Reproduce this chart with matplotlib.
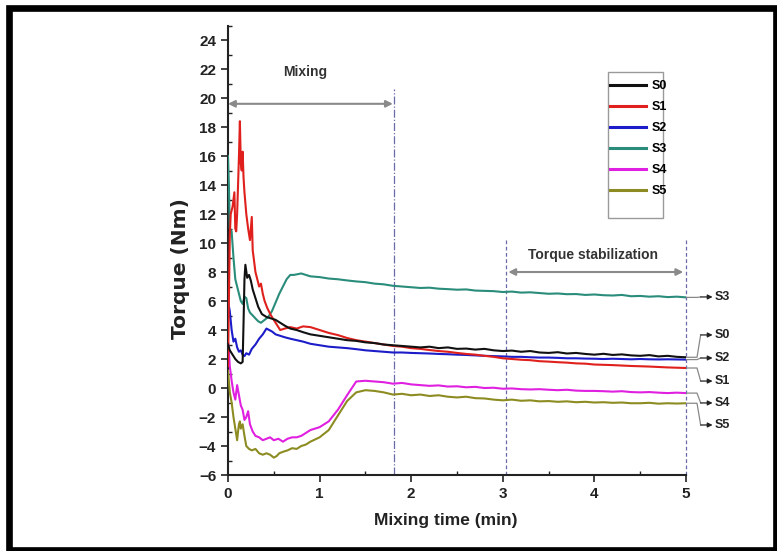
import matplotlib
matplotlib.use("Agg")
import matplotlib.pyplot as plt
from matplotlib.patches import Rectangle
from matplotlib.ticker import MultipleLocator

plt.rcParams['font.family'] = ['Liberation Sans Narrow', 'Liberation Sans', 'DejaVu Sans']
plt.rcParams['font.weight'] = 'bold'

# Shared time grid for the slow part of every run (min)
T_LATE = [1.0, 1.1, 1.2, 1.3, 1.4, 1.5, 1.6, 1.7, 1.8, 1.9,
          2.0, 2.1, 2.2, 2.3, 2.4, 2.5, 2.6, 2.7, 2.8, 2.9,
          3.0, 3.1, 3.2, 3.3, 3.4, 3.5, 3.6, 3.7, 3.8, 3.9,
          4.0, 4.1, 4.2, 4.3, 4.4, 4.5, 4.6, 4.7, 4.8, 4.9, 5.0]

# S0 (black)
s0_t = [0.0, 0.02, 0.05, 0.08, 0.11, 0.14, 0.16, 0.17, 0.18, 0.19, 0.21, 0.23, 0.25,
        0.27, 0.30, 0.33, 0.37, 0.42, 0.47, 0.52, 0.57, 0.62, 0.68, 0.75, 0.82, 0.9]
s0_y = [3.0, 2.6, 2.3, 2.0, 1.8, 1.7, 1.8, 4.5, 7.5, 8.5, 7.6, 7.8, 7.4,
        6.8, 6.2, 5.6, 5.1, 4.9, 4.8, 4.7, 4.5, 4.3, 4.1, 4.0, 3.85, 3.7]
s0_late = [3.6, 3.5, 3.4, 3.3, 3.25, 3.15, 3.1, 3.0, 2.95, 2.9,
           2.85, 2.8, 2.85, 2.75, 2.8, 2.7, 2.72, 2.65, 2.7, 2.6,
           2.55, 2.58, 2.5, 2.55, 2.45, 2.42, 2.47, 2.38, 2.42, 2.35,
           2.3, 2.36, 2.28, 2.32, 2.25, 2.22, 2.27, 2.18, 2.22, 2.15, 2.12]

# S1 (red)
s1_t = [0.0, 0.01, 0.02, 0.03, 0.05, 0.07, 0.08, 0.09, 0.10, 0.11, 0.12, 0.13, 0.14,
        0.15, 0.16, 0.17, 0.18, 0.20, 0.22, 0.24, 0.26, 0.27, 0.28, 0.30, 0.32, 0.34,
        0.36, 0.38, 0.40, 0.43, 0.47, 0.52, 0.57, 0.62, 0.68, 0.75, 0.82, 0.9]
s1_y = [1.5, 6.0, 10.5, 12.0, 12.5, 13.5, 11.0, 10.8, 12.0, 14.0, 16.0, 18.4, 15.5,
        15.0, 16.3, 14.5, 13.5, 12.0, 11.0, 10.2, 11.8, 9.5, 9.0, 8.0, 7.5, 7.0,
        7.2, 6.5, 6.0, 5.5, 5.0, 4.5, 4.0, 4.1, 4.2, 4.1, 4.25, 4.2]
s1_late = [4.0, 3.8, 3.65, 3.45, 3.3, 3.2, 3.1, 3.0, 2.9, 2.85,
           2.75, 2.7, 2.62, 2.55, 2.5, 2.42, 2.35, 2.3, 2.22, 2.15,
           2.05, 2.0, 1.95, 1.92, 1.85, 1.82, 1.78, 1.75, 1.7, 1.68,
           1.62, 1.6, 1.58, 1.55, 1.52, 1.5, 1.48, 1.45, 1.42, 1.4, 1.38]

# S2 (blue)
s2_t = [0.0, 0.02, 0.04, 0.06, 0.08, 0.10, 0.12, 0.14, 0.16, 0.18, 0.20, 0.23, 0.26,
        0.30, 0.34, 0.38, 0.42, 0.45, 0.48, 0.52, 0.57, 0.62, 0.68, 0.75, 0.82, 0.9]
s2_y = [6.0, 5.3, 4.0, 3.2, 3.4, 2.8, 2.5, 2.6, 2.3, 2.2, 2.4, 2.3, 2.7,
        3.0, 3.4, 3.7, 4.1, 4.0, 3.9, 3.7, 3.6, 3.5, 3.4, 3.3, 3.2, 3.05]
s2_late = [2.95, 2.85, 2.8, 2.75, 2.68, 2.6, 2.55, 2.5, 2.45, 2.45,
           2.42, 2.4, 2.38, 2.35, 2.33, 2.3, 2.28, 2.25, 2.22, 2.2,
           2.18, 2.15, 2.15, 2.12, 2.1, 2.1, 2.08, 2.05, 2.05, 2.03,
           2.02, 2.0, 2.02, 2.0, 1.98, 2.0, 1.98, 1.97, 1.98, 1.97, 1.96]

# S3 (teal)
s3_t = [0.0, 0.01, 0.02, 0.04, 0.06, 0.08, 0.10, 0.12, 0.14, 0.16, 0.18, 0.20, 0.22,
        0.24, 0.27, 0.30, 0.33, 0.36, 0.40, 0.44, 0.48, 0.52, 0.56, 0.60, 0.64, 0.68,
        0.72, 0.76, 0.80, 0.85, 0.9]
s3_y = [16.0, 14.0, 11.0, 10.8, 9.0, 7.5, 7.0, 6.5, 6.0, 5.8, 6.3, 6.2, 5.5,
        5.2, 5.0, 4.8, 4.6, 4.5, 4.7, 4.9, 5.3, 5.9, 6.5, 7.0, 7.5, 7.8,
        7.8, 7.85, 7.9, 7.8, 7.7]
s3_late = [7.65, 7.55, 7.5, 7.42, 7.35, 7.3, 7.2, 7.15, 7.05, 7.0,
           6.95, 6.9, 6.92, 6.85, 6.82, 6.78, 6.8, 6.72, 6.7, 6.68,
           6.62, 6.65, 6.58, 6.6, 6.55, 6.5, 6.52, 6.47, 6.48, 6.42,
           6.45, 6.4, 6.38, 6.42, 6.33, 6.35, 6.3, 6.33, 6.27, 6.3, 6.25]

# S4 (magenta)
s4_t = [0.0, 0.01, 0.02, 0.04, 0.06, 0.08, 0.10, 0.12, 0.14, 0.16, 0.18, 0.20, 0.22,
        0.24, 0.27, 0.30, 0.34, 0.38, 0.42, 0.46, 0.50, 0.55, 0.60, 0.65, 0.70, 0.75,
        0.80, 0.85, 0.9]
s4_y = [3.3, 2.5, 1.5, 0.5, -0.3, -0.8, 0.2, -0.5, -1.2, -1.5, -2.2, -2.0, -1.6,
        -2.5, -3.0, -3.3, -3.4, -3.6, -3.5, -3.4, -3.6, -3.5, -3.7, -3.5, -3.4, -3.4,
        -3.3, -3.1, -2.9]
s4_late = [-2.7, -2.3, -1.5, -0.5, 0.45, 0.5, 0.45, 0.4, 0.3, 0.35,
           0.25, 0.2, 0.15, 0.18, 0.1, 0.12, 0.05, 0.08, 0.0, 0.02,
           -0.05, -0.03, -0.08, -0.1, -0.08, -0.12, -0.15, -0.12, -0.18, -0.2,
           -0.2, -0.22, -0.25, -0.22, -0.28, -0.3, -0.28, -0.32, -0.35, -0.32, -0.35]

# S5 (olive)
s5_t = [0.0, 0.02, 0.04, 0.06, 0.08, 0.10, 0.11, 0.12, 0.13, 0.14, 0.16, 0.18, 0.20,
        0.23, 0.26, 0.30, 0.34, 0.38, 0.42, 0.46, 0.50, 0.53, 0.56, 0.60, 0.65, 0.70,
        0.75, 0.80, 0.85, 0.9]
s5_y = [1.2, -0.3, -1.0, -2.0, -2.8, -3.6, -3.0, -2.5, -2.3, -2.8, -2.5, -3.3, -4.0,
        -4.2, -4.3, -4.2, -4.5, -4.6, -4.5, -4.6, -4.8, -4.7, -4.5, -4.4, -4.3, -4.15,
        -4.2, -4.0, -3.9, -3.7]
s5_late = [-3.4, -2.9, -1.9, -0.9, -0.3, -0.15, -0.2, -0.3, -0.45, -0.4,
           -0.5, -0.45, -0.55, -0.5, -0.6, -0.65, -0.6, -0.7, -0.72, -0.8,
           -0.85, -0.8, -0.88, -0.85, -0.92, -0.9, -0.95, -0.92, -0.98, -0.95,
           -1.0, -0.98, -1.02, -1.0, -1.05, -1.05, -1.02, -1.08, -1.05, -1.07, -1.05]

labels = ['S0', 'S1', 'S2', 'S3', 'S4', 'S5']
colors = ['#111111', '#e0201c', '#1c1cc8', '#2a8c7a', '#e020e0', '#8c8c22']
early_t = [s0_t, s1_t, s2_t, s3_t, s4_t, s5_t]
early_y = [s0_y, s1_y, s2_y, s3_y, s4_y, s5_y]
late_y = [s0_late, s1_late, s2_late, s3_late, s4_late, s5_late]
zorders = [6, 5, 4, 3, 3, 3]

# where the side labels sit (Torque value)
end_label_y = [3.66, 0.48, 2.07, 6.28, -1.03, -2.55]

fig = plt.figure(figsize=(7.77, 5.51), dpi=100)
ax = fig.add_axes([0.2934, 0.1379, 0.5895, 0.8158])

for lab, col, t, y, yl, z in zip(labels, colors, early_t, early_y, late_y, zorders):
    ax.plot(t + T_LATE, y + yl, color=col, lw=1.5, label=lab, zorder=z)

ax.set_xlim(0, 5)
ax.set_ylim(-6, 25)
ax.xaxis.set_major_locator(MultipleLocator(1))
ax.xaxis.set_minor_locator(MultipleLocator(0.5))
ax.yaxis.set_major_locator(MultipleLocator(2))
ax.yaxis.set_minor_locator(MultipleLocator(1))
ax.set_yticks(range(-6, 25, 2))
ax.tick_params(which='major', direction='out', length=5, width=1.2, labelsize=11, colors='#222222')
ax.tick_params(which='minor', direction='in', length=3, width=1.0, colors='#222222')
ax.spines['top'].set_visible(False)
ax.spines['right'].set_visible(False)
for s in ('left', 'bottom'):
    ax.spines[s].set_linewidth(1.5)
    ax.spines[s].set_color('#222222')
for lbl in ax.get_xticklabels() + ax.get_yticklabels():
    lbl.set_fontweight('bold')

ax.set_xlabel('Mixing time (min)', fontsize=12.5, fontweight='bold', labelpad=14, color='#222222')
ax.xaxis.set_label_coords(0.475, -0.085)
ax.set_ylabel('Torque (Nm)', fontsize=14.5, fontweight='bold', labelpad=6, color='#222222',
              family=['DejaVu Sans'])
ax.yaxis.set_label_coords(-0.083, 0.46)

# phase markers
ax.plot([1.81, 1.81], [-6, 20.6], color='#6a6aa8', lw=0.9, ls='-.', zorder=2)
ax.plot([3.03, 3.03], [-6, 10.3], color='#6a6aa8', lw=0.9, ls=(0, (3, 2)), zorder=2)
ax.plot([5.0, 5.0], [-6, 10.3], color='#6a6aa8', lw=0.9, ls=(0, (3, 2)), zorder=2, clip_on=False)

ax.annotate('', xy=(0.0, 19.6), xytext=(1.8, 19.6),
            arrowprops=dict(arrowstyle='<|-|>', color='#8a8a8a', lw=1.5, mutation_scale=10,
                            shrinkA=0, shrinkB=0))
ax.text(0.84, 21.8, 'Mixing', ha='center', va='center', fontsize=10, fontweight='bold', color='#333333')
ax.annotate('', xy=(3.06, 8.0), xytext=(4.97, 8.0),
            arrowprops=dict(arrowstyle='<|-|>', color='#8a8a8a', lw=1.5, mutation_scale=10,
                            shrinkA=0, shrinkB=0))
ax.text(3.98, 9.2, 'Torque stabilization', ha='center', va='center', fontsize=10,
        fontweight='bold', color='#333333')

# side labels at the end of each curve
for lab, yl, ly in zip(labels, late_y, end_label_y):
    yend = yl[-1]
    ax.plot([5.0, 5.12, 5.16], [yend, yend, ly], color='#888888', lw=0.9, clip_on=False)
    ax.annotate('', xy=(5.29, ly), xytext=(5.16, ly), annotation_clip=False,
                arrowprops=dict(arrowstyle='-|>', color='#222222', lw=0.9, mutation_scale=7,
                                shrinkA=0, shrinkB=0))
    ax.text(5.31, ly, lab, ha='left', va='center', fontsize=9, fontweight='bold',
            color='#222222', clip_on=False)

leg = ax.legend(loc='upper left', bbox_to_anchor=(0.834, 0.878), frameon=False,
                fontsize=9, handlelength=2.9, handletextpad=0.4, labelspacing=0.72,
                borderpad=0, borderaxespad=0)
for txt in leg.get_texts():
    txt.set_fontweight('bold')
for h in leg.get_lines():
    h.set_linewidth(2.2)
ax.add_patch(Rectangle((0.83, 0.572), 0.12, 0.325, transform=ax.transAxes,
                       fill=False, edgecolor='#9a9a9a', lw=1.0, zorder=1))

# black photo frame
fig.patches.append(Rectangle((0.0116, 0.0018), 0.987, 0.983, transform=fig.transFigure,
                             fill=False, edgecolor='black', lw=4.8))

fig.savefig('out.png', dpi=100)
